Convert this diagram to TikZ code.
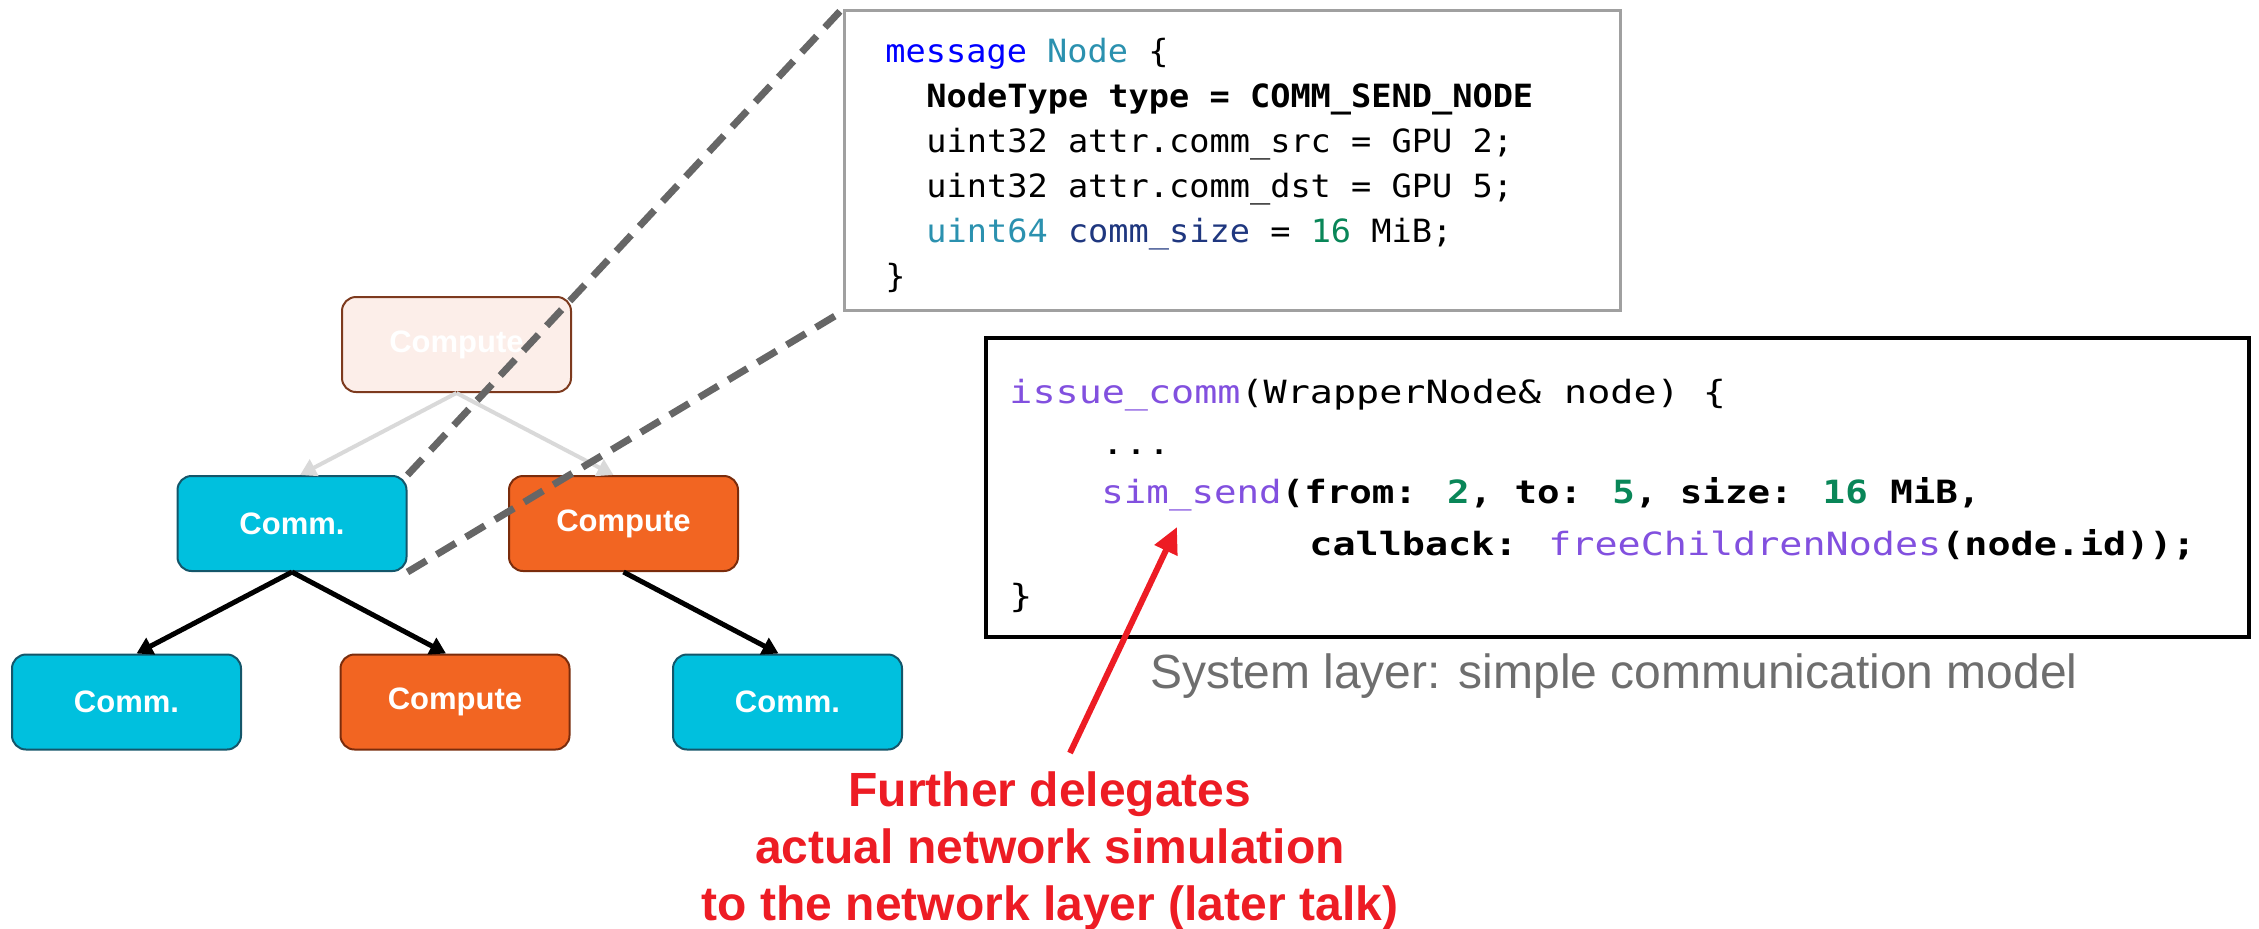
\documentclass[tikz,border=0pt]{standalone}
\usepackage{fontspec}
\setmainfont{Liberation Sans}
\newfontfamily\codeA[FakeStretch=1.05]{DejaVu Sans Mono}
\newfontfamily\codeB[FakeStretch=1.2]{DejaVu Sans Mono}
\newfontfamily\codeC[FakeStretch=1.17]{DejaVu Sans Mono}
\usetikzlibrary{arrows.meta,calc}

\definecolor{commfill}{HTML}{00C0DE}
\definecolor{commline}{HTML}{14566A}
\definecolor{compfill}{HTML}{F26522}
\definecolor{compline}{HTML}{7A2C0C}
\definecolor{fadefill}{HTML}{FCEEE9}
\definecolor{fadeline}{HTML}{7D3A1E}
\definecolor{graylink}{HTML}{D9D9D9}
\definecolor{dashgray}{HTML}{666666}
\definecolor{boxgray}{HTML}{A0A0A0}
\definecolor{kwblue}{HTML}{0000FF}
\definecolor{typeteal}{HTML}{2B91AF}
\definecolor{varnavy}{HTML}{1F377F}
\definecolor{numgreen}{HTML}{098658}
\definecolor{fnpurple}{HTML}{8250DF}
\definecolor{sysgray}{HTML}{6E6E6E}
\definecolor{notered}{HTML}{ED1C24}

\begin{document}
\begin{tikzpicture}[x=0.5pt,y=-0.5pt,
  treebox/.style={rectangle, rounded corners=7pt, minimum width=114.5pt,
    minimum height=47.5pt, inner sep=0pt, line width=1pt, text=white,
    font=\fontsize{15.5}{18}\selectfont\bfseries},
  comm/.style={treebox, fill=commfill, draw=commline},
  comp/.style={treebox, fill=compfill, draw=compline},
  faded/.style={treebox, fill=fadefill, draw=fadeline},
  ghostlink/.style={draw=graylink, line width=2pt, -{Triangle[length=8pt,width=9pt]}},
  deplink/.style={draw=black, line width=2.5pt, -{Triangle[length=8pt,width=9pt]}},
  zoomline/.style={draw=dashgray, line width=3.5pt, dash pattern=on 11pt off 6pt},
  codeframe/.style={rectangle, fill=white, inner sep=0pt},
  linea/.style={anchor=base west, inner sep=0pt, font=\fontsize{16}{19}\selectfont\codeA},
  lineb/.style={anchor=base west, inner sep=0pt, font=\fontsize{16}{19}\selectfont\codeB},
  linec/.style={anchor=base west, inner sep=0pt, font=\fontsize{16}{19}\selectfont\codeC},
  callout/.style={draw=notered, line width=3pt, -{Triangle[length=13pt,width=12pt]}}
]
\useasboundingbox (0,0) rectangle (2259,928);

% dependency tree
\node[faded] (top) at (456.5,344.5) {Compute};
\node[comm]  (cm)  at (292,523.5)   {Comm.};
\node[comp]  (cpm) at (623.5,523.5) {Compute};
\node[comm]  (bl)  at (126.5,702)   {Comm.};
\node[comp]  (bc)  at (455,702)     {Compute};
\node[comm]  (br)  at (787.5,702)   {Comm.};

\draw[ghostlink] (top.south) -- ([xshift=4pt]cm.north);
\draw[ghostlink] (top.south) -- ([xshift=-5pt]cpm.north);
\draw[deplink] (cm.south) -- ([xshift=5pt]bl.north);
\draw[deplink] (cm.south) -- ([xshift=-4.5pt]bc.north);
\draw[deplink] (cpm.south) -- ([xshift=-4.5pt]br.north);

% protobuf message of the selected node
\node[codeframe, draw=boxgray, line width=1.5pt, minimum width=388pt,
      minimum height=150pt] (msg) at (1232,160) {};
\draw[zoomline] (cm.north east) -- (msg.north west);
\draw[zoomline] (cm.south east) -- (msg.south west);

\node[linea] (m1) at (885,62)  {\textcolor{kwblue}{message} \textcolor{typeteal}{Node} \{};
\node[linea] (m2) at (926,107) {\bfseries NodeType type = COMM\_SEND\_NODE};
\node[linea] (m3) at (926,152) {uint32 attr.comm\_src = GPU 2;};
\node[linea] (m4) at (926,197) {uint32 attr.comm\_dst = GPU 5;};
\node[linea] (m5) at (926,242) {\textcolor{typeteal}{uint64} \textcolor{varnavy}{comm\_size} = \textcolor{numgreen}{16} MiB;};
\node[linea] (m6) at (885,287) {\}};

% system layer handler
\node[codeframe, draw=black, line width=2pt, minimum width=631.5pt,
      minimum height=149.5pt] (sys) at (1617.5,487.5) {};

\node[lineb] (c1) at (1009,403) {\textcolor{fnpurple}{issue\_comm}(WrapperNode\& node) \{};
\node[lineb] (c2) at (1101,454) {...};
\node[linec] (c3) at (1101,503) {\textcolor{fnpurple}{sim\_send}\bfseries(from: \textcolor{numgreen}{2}, to: \textcolor{numgreen}{5}, size: \textcolor{numgreen}{16} MiB,};
\node[lineb] (c4) at (1309,555) {\bfseries callback: \textcolor{fnpurple}{\mdseries freeChildrenNodes}(node.id));};
\node[lineb] (c5) at (1009,607) {\}};

\node[anchor=base, inner sep=0pt, text=sysgray, font=\fontsize{24}{28}\selectfont]
  (cap) at (1614,688) {System layer: simple communication model};

% red annotation
\node[anchor=north, align=center, inner sep=0pt, text=notered,
      font=\fontsize{24}{28.5}\selectfont\bfseries] (note) at (1050,771)
  {Further delegates\\actual network simulation\\to the network layer (later talk)};
\coordinate (tail) at (1070,753);
\coordinate (tip) at (1177,527);
\draw[callout] (tail) -- (tip);
\end{tikzpicture}
\end{document}
